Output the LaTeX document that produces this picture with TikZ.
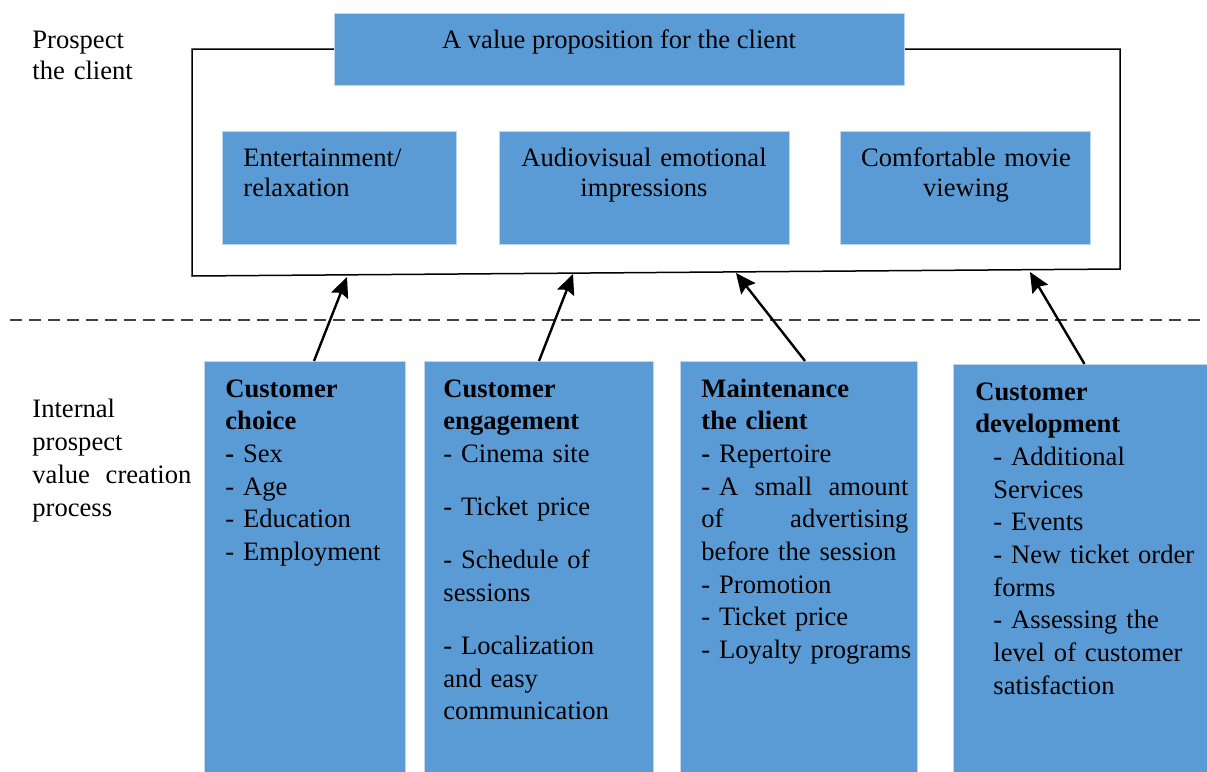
\documentclass[tikz,border=0pt]{standalone}
\usepackage{fontspec}
\setmainfont{Liberation Serif}
\usetikzlibrary{arrows.meta}
\definecolor{boxblue}{RGB}{91,155,213}
\definecolor{boxedge}{RGB}{189,215,238}
\newcommand\fullline[2]{\leavevmode\hbox to #1{#2}}
\begin{document}
\begin{tikzpicture}[x=0.5pt,y=-0.5pt,
    every node/.style={inner sep=0pt, font=\fontsize{13.3}{16.35}\selectfont},
    bluebox/.style={fill=boxblue, draw=boxedge, line width=0.5pt, anchor=north west},
    boxtext/.style={anchor=base west, align=left},
    midtext/.style={anchor=base, align=center, text width=140pt, font=\fontsize{13.3}{15}\selectfont},
    arrow/.style={-{Stealth[length=10pt,width=9pt,inset=1.5pt]}, line width=1.2pt}]

\useasboundingbox (0,0) rectangle (1207,772);

\node[boxtext, text width=80pt, font=\fontsize{13.3}{15.5}\selectfont] (prospect) at (32,48) {Prospect\\the client};
\node[boxtext, text width=85pt, font=\fontsize{13.3}{16.6}\selectfont] (internal) at (32,417)
    {Internal\\prospect\\\fullline{79.5pt}{value\hfill creation}\\process};

\draw[line width=0.75pt] (192,49) -- (192,276) -- (1120,269) -- (1120,49) -- cycle;
\node[bluebox, minimum width=285pt, minimum height=36pt] (value) at (334,13) {};
\node[anchor=base] (valuetxt) at (619,48) {A value proposition for the client};

\node[bluebox, minimum width=117pt, minimum height=56.5pt] (relax) at (222,131) {};
\node[bluebox, minimum width=145pt, minimum height=56.5pt] (audio) at (499,131) {};
\node[bluebox, minimum width=125pt, minimum height=56.5pt] (comfort) at (840,131) {};
\node[boxtext, text width=110pt, font=\fontsize{13.3}{15}\selectfont] (relaxtxt) at (243,166) {Entertainment/\\relaxation};
\node[midtext] (audiotxt) at (644,166) {Audiovisual emotional\\impressions};
\node[midtext] (comforttxt) at (966,166) {Comfortable movie\\viewing};

\draw[dash pattern=on 6pt off 3.5pt, line width=0.6pt, black!75] (10,320) -- (1207,320);

\node[bluebox, minimum width=100.5pt, minimum height=205.5pt] (choice) at (204,361) {};
\node[bluebox, minimum width=114.5pt, minimum height=205.5pt] (engage) at (424,361) {};
\node[bluebox, minimum width=118.5pt, minimum height=205.5pt] (maint) at (680,361) {};
\node[bluebox, minimum width=127pt, minimum height=204pt] (develop) at (953,364) {};

\node[boxtext, text width=90pt] (choicetxt) at (225,397)
    {\textbf{Customer}\\\textbf{choice}\\\textbf{-} Sex\\- Age\\- Education\\- Employment};
\node[boxtext, text width=100pt] (engagetxt) at (443,397)
    {\textbf{Customer}\\\textbf{engagement}\\- Cinema site\\[10.2pt]- Ticket price\\[10.2pt]- Schedule of\\sessions\\[10.2pt]- Localization\\and easy\\communication};
\node[boxtext, text width=110pt] (mainttxt) at (701,397)
    {\textbf{Maintenance}\\\textbf{the client}\\\textbf{-} Repertoire\\\fullline{103.5pt}{- A\hfill small\hfill amount}\\\fullline{103.5pt}{of\hfill advertising}\\before the session\\- Promotion\\- Ticket price\\- Loyalty programs};
\node[boxtext, text width=115pt] (developtxt) at (975,400)
    {\textbf{Customer}\\\textbf{development}\\\hspace*{9pt}- Additional\\\hspace*{9pt}Services\\\hspace*{9pt}- Events\\\hspace*{9pt}- New ticket order\\\hspace*{9pt}forms\\\hspace*{9pt}- Assessing the\\\hspace*{9pt}level of customer\\\hspace*{9pt}satisfaction};

\coordinate (tipA) at (347,277);
\coordinate (tipB) at (573,274);
\coordinate (tipC) at (736,273);
\coordinate (tipD) at (1030,272);
\draw[arrow] ([xshift=4.5pt]choice.north) -- (tipA);
\draw[arrow] (engage.north) -- (tipB);
\draw[arrow] ([xshift=3pt]maint.north) -- (tipC);
\draw[arrow] ([xshift=2pt]develop.north) -- (tipD);

\end{tikzpicture}
\end{document}
